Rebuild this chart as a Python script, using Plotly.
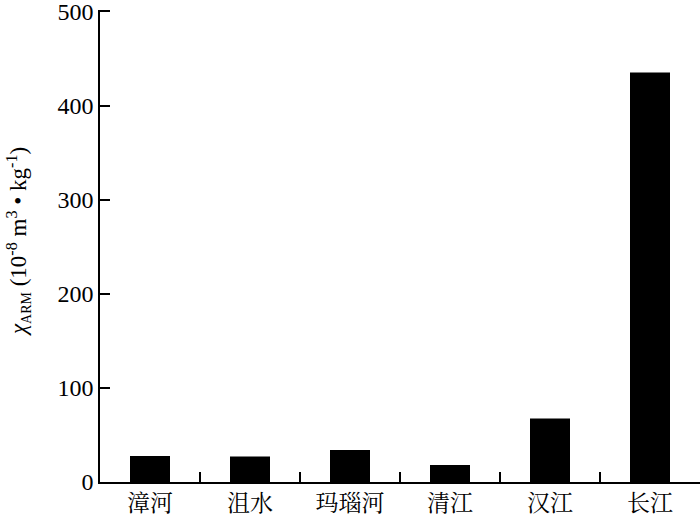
import plotly.graph_objects as go

categories = ["漳河", "沮水", "玛瑙河", "清江", "汉江", "长江"]
chi_arm = [27.5, 27, 34, 18, 67.5, 435]
y_tick_vals = [0, 100, 200, 300, 400, 500]

serif = "Liberation Serif, Times New Roman, serif"
cjk = "Noto Serif CJK SC, Noto Sans CJK SC, serif"

fig = go.Figure()
fig.add_trace(go.Bar(
    x=categories, y=chi_arm,
    marker=dict(color="black", line=dict(width=0)),
    width=0.4,
))

fig.update_layout(
    width=700, height=517,
    margin=dict(l=100, r=0, t=10, b=35, autoexpand=False),
    plot_bgcolor="white", paper_bgcolor="white",
    showlegend=False,
    xaxis=dict(
        type="category",
        range=[-0.5, 5.5],
        automargin=False,
        showline=True, linecolor="black", linewidth=1.5,
        ticks="inside", tickson="boundaries", ticklen=10, tickwidth=1.5, tickcolor="black",
        tickfont=dict(family=cjk, size=23, color="black"),
        showgrid=False, zeroline=False,
    ),
    yaxis=dict(
        range=[0, 501.5],
        tickvals=y_tick_vals,
        automargin=False,
        ticklabeloverflow="allow",
        showline=True, linecolor="black", linewidth=1.5,
        ticks="inside", ticklen=10, tickwidth=1.5, tickcolor="black",
        tickfont=dict(family=serif, size=24, color="black"),
        showgrid=False, zeroline=False,
    ),
    annotations=[dict(
        xref="paper", yref="paper", x=-0.137, y=0.51,
        xanchor="center", yanchor="middle", textangle=-90,
        showarrow=False,
        text="<i>χ</i><sub><span style='font-size:14px'>ARM</span></sub> (10<sup>-8</sup> m<sup>3</sup> • kg<sup>-1</sup>)",
        font=dict(family=serif, size=23, color="black"),
    )],
)

fig.write_html("out.html", config={"displayModeBar": False},
               post_script="document.body.style.margin='0';")
